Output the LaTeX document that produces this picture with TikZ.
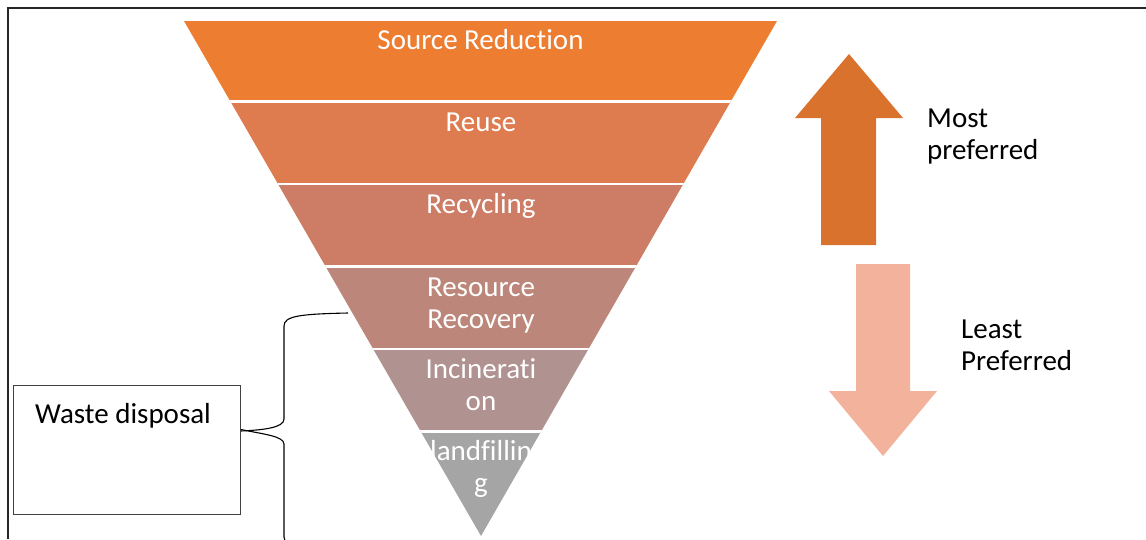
\documentclass[tikz,border=0pt]{standalone}
\usepackage{fontspec}
\setmainfont{Carlito}[Ligatures=NoCommon]
\begin{document}
\begin{tikzpicture}[x=1pt,y=-1pt,
  bandlabel/.style={text=white,font=\fontsize{29}{32}\selectfont,align=center,inner sep=0pt,anchor=base},
  sidelabel/.style={text=black,font=\fontsize{29}{32}\selectfont,align=left,inner sep=0pt,anchor=base west},
  frameline/.style={draw=black!85,line width=1.8pt},
  bracepath/.style={draw=black,line width=1.1pt}]
\definecolor{bandA}{HTML}{ED7D31}
\definecolor{bandB}{HTML}{DE7C4F}
\definecolor{bandC}{HTML}{CD7C66}
\definecolor{bandD}{HTML}{BC877A}
\definecolor{bandE}{HTML}{B09290}
\definecolor{bandF}{HTML}{A5A5A5}
\definecolor{upcol}{HTML}{D8722D}
\definecolor{downcol}{HTML}{F3B29B}
\useasboundingbox (0,0) rectangle (1146,539);
\clip (0,0) rectangle (1146,539);

% outer frame (top and left edges only)
\draw[frameline] (8,539) -- (8,8) -- (1146,8);

% inverted pyramid, six bands
\begin{scope}
  \clip (184,21) -- (777,21) -- (481,536) -- cycle;
  \fill[bandA] (150,21) rectangle (800,101.5);
  \fill[bandB] (150,101.5) rectangle (800,184);
  \fill[bandC] (150,184) rectangle (800,266.5);
  \fill[bandD] (150,266.5) rectangle (800,349);
  \fill[bandE] (150,349) rectangle (800,431.5);
  \fill[bandF] (150,431.5) rectangle (800,540);
  \foreach \yy in {101.5,184,266.5,349,431.5}
    \draw[white,line width=2.8pt] (150,\yy) -- (800,\yy);
\end{scope}

% band labels (multi-line labels sit on the baseline of their last line)
\node[bandlabel] (source) at (480.5,49) {Source Reduction};
\node[bandlabel] (reuse) at (481,131) {Reuse};
\node[bandlabel] (recycling) at (481,213) {Recycling};
\node[bandlabel] (recovery) at (481,328) {Resource\\Recovery};
\node[bandlabel] (incineration) at (481,410) {Incinerati\\on};
\node[bandlabel] (landfilling) at (481,492) {landfillin\\g};

% preference arrows
\fill[upcol] (849,54) -- (903,118) -- (876,118) -- (876,245) -- (821,245) -- (821,118) -- (795,118) -- cycle;
\fill[downcol] (856,264) -- (910,264) -- (910,391) -- (937,391) -- (883,456) -- (829,391) -- (856,391) -- cycle;
\node[sidelabel] (most) at (927,159) {Most\\preferred};
\node[sidelabel] (least) at (961,370) {Least\\Preferred};

% waste disposal box and brace
\node[draw=black!75,line width=1pt,minimum width=227pt,minimum height=129pt,inner sep=0pt,anchor=north west] (wbox) at (13,385) {};
\node[sidelabel] (wtext) at (35,423) {Waste disposal};
\coordinate (btop) at (348,313);
\coordinate (btip) at (wbox.east |- 0,431);
\coordinate (bbot) at (348,549);
\draw[bracepath] (btop) .. controls (300,314) and (284,316) .. (284,326)
  -- (284,419) .. controls (284,428) and (262,430) .. (btip);
\draw[bracepath] ([yshift=1.5pt]btip) .. controls (262,434) and (284,436) .. (284,444)
  -- (284,537) .. controls (284,546) and (300,548) .. (bbot);
\end{tikzpicture}
\end{document}
